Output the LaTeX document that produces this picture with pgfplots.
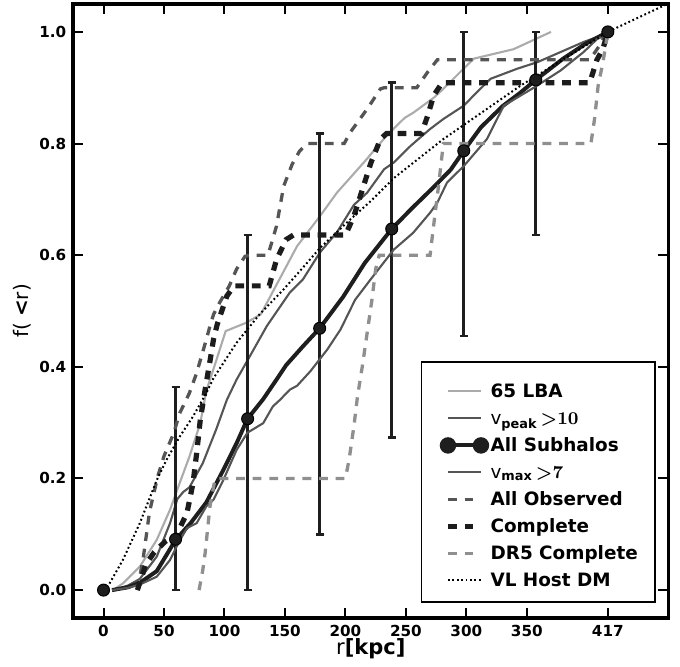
\documentclass[border=0pt]{standalone}
\usepackage{fontspec}
\setmainfont{DejaVu Sans}
\usepackage{pgfplots}
\pgfplotsset{compat=1.18}
\definecolor{lba}{HTML}{ABABAB}
\definecolor{vg}{HTML}{555555}
\definecolor{obs}{HTML}{555555}
\definecolor{cmp}{HTML}{1C1C1C}
\definecolor{dr5}{HTML}{8F8F8F}
\definecolor{sub}{HTML}{1E1E1E}
\newcommand{\lgent}[1]{\makebox[71.4pt][l]{#1}}
\begin{document}
\begin{tikzpicture}
\begin{axis}[
  scale only axis, width=297.5pt, height=307pt,
  xmin=-25, xmax=467, ymin=-0.05, ymax=1.05,
  xtick={0,50,100,150,200,250,300,350,417},
  xticklabels={0,50,100,150,200,250,300,350,417},
  ytick={0,0.2,0.4,0.6,0.8,1.0},
  yticklabels={0.0,0.2,0.4,0.6,0.8,1.0},
  minor tick num=0,
  tick align=inside, major tick length=5pt,
  every tick/.style={black, line width=1pt},
  axis line style={line width=1.8pt},
  ticklabel style={font=\fontsize{7.6}{8}\selectfont\bfseries},
  xlabel={r\textbf{[kpc]}}, ylabel={f( \textbf{<}r)},
  every axis x label/.style={at={(rel axis cs:0.5,0)}, yshift=-15.2pt, anchor=center, font=\fontsize{10.5}{12}\selectfont},
  every axis y label/.style={at={(rel axis cs:0,0.5)}, xshift=-25.4pt, rotate=90, anchor=center, font=\fontsize{10}{12}\selectfont},
  legend style={at={(0.5855,0.3827)}, anchor=north west, draw=none, fill=none,
    inner xsep=11.65pt, inner ysep=0pt, row sep=5.5pt, column sep=3.5pt,
    font=\fontsize{9.2}{10}\selectfont\bfseries,
    nodes={inner sep=0pt, text height=7pt, text depth=1pt}},
  legend cell align=left,
  legend image code/.code={\draw[#1] (0pt,0pt) -- (16.5pt,0pt);},
]
\coordinate (sw) at (rel axis cs:0,0);
\coordinate (ne) at (rel axis cs:1,1);
% 65 LBA
\addplot[lba, line width=1.05pt] table {
8 0
16 0.012
30 0.042
44 0.09
55 0.144
63 0.192
71 0.239
80 0.299
85 0.357
93 0.41
101 0.464
118 0.479
130 0.494
160 0.616
179 0.67
193 0.712
216 0.768
234 0.814
249 0.846
256 0.855
273 0.882
281 0.898
306 0.952
339 0.969
370 1.0
};
\addlegendentry{\lgent{65 LBA}}
% vpeak > 10
\addplot[vg, line width=1.05pt] table {
8 0
20 0.008
30 0.02
44 0.06
55 0.12
61 0.163
66 0.176
71 0.184
82 0.227
93 0.287
102 0.341
110 0.377
121 0.419
135 0.473
154 0.533
165 0.557
179 0.605
193 0.641
207 0.69
218 0.712
232 0.754
240 0.766
254 0.796
270 0.826
281 0.844
298 0.868
306 0.886
320 0.916
342 0.934
359 0.946
378 0.964
397 0.982
420 1.0
};
\addlegendentry{\lgent{{\mdseries v}$_{\mathbf{peak}}$\,{\boldmath$\mathord{>}\mathbf{10}$}}}
% All subhalos (line)
\addplot[sub, line width=2pt, legend image code/.code={\draw[sub, line width=2pt] (0pt,0pt) -- (16.5pt,0pt); \fill[sub, overlay] (0pt,0pt) circle (3.1pt) (16.5pt,0pt) circle (3.1pt);}] table {
7 0
20 0.005
30 0.013
44 0.034
59.6 0.09
72 0.12
85 0.157
99 0.215
110 0.263
119.1 0.307
132 0.342
143 0.377
151 0.403
165 0.437
178.7 0.469
198 0.525
216 0.586
238.3 0.647
255 0.684
273 0.722
287 0.753
297.9 0.787
312 0.829
330 0.867
344 0.89
357.4 0.914
380 0.952
398 0.978
417 1.0
};
\addlegendentry{\lgent{All Subhalos}}
% All subhalos markers with error bars
\addplot[only marks, mark=*, mark size=3pt, mark options={fill=sub, draw=black, line width=0.5pt}, forget plot,
  error bars/.cd, y dir=both, y explicit,
  error bar style={line width=1.3pt, color=sub},
  error mark options={rotate=90, line width=1.3pt, mark size=2pt, color=sub}]
  table[x=x, y=y, y error plus=ep, y error minus=em] {
x y ep em
59.57 0.091 0.273 0.091
119.14 0.307 0.329 0.307
178.71 0.469 0.349 0.369
238.29 0.647 0.262 0.374
297.86 0.787 0.213 0.332
357.43 0.914 0.086 0.278
};
\addplot[only marks, mark=*, mark size=3pt, mark options={fill=sub, draw=black, line width=0.5pt}, forget plot] table {
0 0
417 1.0
};
% vmax > 7
\addplot[vg, line width=1.05pt] table {
7 0
20 0.004
30 0.01
44 0.024
55 0.054
62 0.085
69 0.111
77 0.12
85 0.15
91 0.162
99 0.197
110 0.251
119 0.282
132 0.299
140 0.329
146 0.341
154 0.359
160 0.366
171 0.392
185 0.431
196 0.467
208 0.52
221 0.557
240 0.61
256 0.64
270 0.676
276 0.694
284 0.73
298 0.76
317 0.808
331 0.868
358 0.903
378 0.931
397 0.964
408 0.987
420 1.0
};
\addlegendentry{\lgent{{\mdseries v}$_{\mathbf{max}}$\,{\boldmath$\mathord{>}\mathbf{7}$}}}
% All Observed
\addplot[obs, line width=1.65pt, dash pattern=on 4.4pt off 3.9pt] table {
28 0
33 0.06
38 0.14
45 0.205
50 0.24
58 0.281
63 0.317
71 0.353
77 0.389
85 0.449
88 0.473
91 0.494
96 0.515
104 0.545
110 0.575
117 0.598
121 0.6
136 0.6
143 0.652
149 0.724
156 0.763
162 0.786
168 0.8
199 0.8
204 0.82
218 0.862
229 0.898
232 0.9
259 0.9
268 0.928
276 0.95
402 0.95
410 0.975
416 1.0
};
\addlegendentry{\lgent{All Observed}}
% Complete
\addplot[cmp, line width=2.6pt, dash pattern=on 4.4pt off 3.9pt] table {
28 0
31 0.02
35 0.046
42 0.068
51 0.087
54 0.091
60 0.091
63 0.111
69 0.138
74 0.192
77 0.245
80 0.305
84 0.359
88 0.41
91 0.45
94 0.476
102 0.527
108 0.545
137 0.545
143 0.592
151 0.628
157 0.636
200 0.636
207 0.67
215 0.724
221 0.765
229 0.808
234 0.818
263 0.818
268 0.85
273 0.886
280 0.909
402 0.909
408 0.95
413 0.97
417 1.0
};
\addlegendentry{\lgent{Complete}}
% DR5 Complete
\addplot[dr5, line width=1.65pt, dash pattern=on 4.4pt off 3.9pt] table {
79 0
82 0.035
84 0.066
88 0.15
92 0.197
95 0.2
200 0.2
203 0.233
207 0.293
210 0.347
214 0.401
218 0.461
222 0.521
225 0.575
228 0.6
270 0.6
273 0.654
277 0.724
281 0.8
403 0.8
406 0.844
409 0.904
413 0.946
417 1.0
};
\addlegendentry{\lgent{DR5 Complete}}
% VL Host DM
\addplot[black, line width=1pt, dash pattern=on 0.9pt off 1.3pt] table {
3 0.005
5 0.012
16 0.054
30 0.12
44 0.197
52 0.233
63 0.275
74 0.311
85 0.353
91 0.38
110 0.443
129 0.494
149 0.539
165 0.578
179 0.613
204 0.664
221 0.697
240 0.738
281 0.808
345 0.904
417 1.0
470 1.054
};
\addlegendentry{\lgent{VL Host DM}}
% legend frame
\draw[black, line width=0.8pt, fill=white] (rel axis cs:0.5855,0.417) rectangle ++(116.65pt,-120pt);
\end{axis}
\pgfresetboundingbox
\path[use as bounding box] ([shift={(-36.65pt,-24pt)}]sw) rectangle ([shift={(5.85pt,2pt)}]ne);
\end{tikzpicture}
\end{document}
